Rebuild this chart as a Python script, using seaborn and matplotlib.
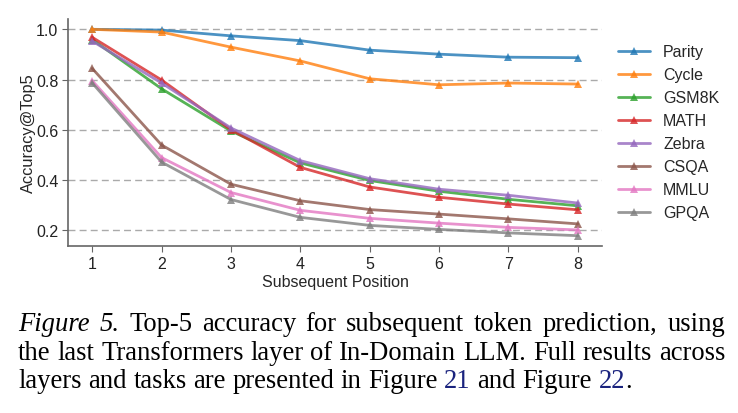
import numpy as np
import pandas as pd
import seaborn as sns
import matplotlib
matplotlib.use("Agg")
import matplotlib.pyplot as plt

# positions on the x axis
positions = [1, 2, 3, 4, 5, 6, 7, 8]

# Accuracy@Top5 per task
parity = [1.000, 0.997, 0.974, 0.955, 0.917, 0.901, 0.889, 0.887]
cycle = [1.000, 0.989, 0.929, 0.874, 0.803, 0.779, 0.786, 0.782]
gsm8k = [0.959, 0.763, 0.595, 0.468, 0.398, 0.355, 0.323, 0.297]
math_ = [0.968, 0.798, 0.600, 0.450, 0.372, 0.331, 0.304, 0.281]
zebra = [0.953, 0.786, 0.607, 0.477, 0.405, 0.363, 0.339, 0.308]
csqa = [0.844, 0.539, 0.383, 0.317, 0.282, 0.264, 0.245, 0.225]
mmlu = [0.795, 0.489, 0.350, 0.279, 0.247, 0.228, 0.211, 0.201]
gpqa = [0.786, 0.471, 0.322, 0.251, 0.219, 0.203, 0.189, 0.178]

task_names = ["Parity", "Cycle", "GSM8K", "MATH", "Zebra", "CSQA", "MMLU", "GPQA"]
task_values = [parity, cycle, gsm8k, math_, zebra, csqa, mmlu, gpqa]

# long-form table for seaborn
df = pd.DataFrame({
    "Subsequent Position": positions * len(task_names),
    "Accuracy@Top5": sum(task_values, []),
    "Task": [n for n in task_names for _ in positions],
})

sns.set_style("ticks")
plt.rcParams["font.family"] = ["Liberation Sans", "DejaVu Sans"]

fig = plt.figure(figsize=(7.38, 4.14), dpi=100)
ax = fig.add_axes([68 / 738, 1 - 247 / 414, (602 - 68) / 738, (247 - 20) / 414])

palette = sns.color_palette("tab10", len(task_names))
sns.lineplot(data=df, x="Subsequent Position", y="Accuracy@Top5", hue="Task",
             hue_order=task_names, palette=palette, marker="^", markersize=6,
             markeredgewidth=0, linewidth=2, alpha=0.8, ax=ax, legend=True)

ax.set_xticks(positions)
ax.set_yticks([0.2, 0.4, 0.6, 0.8, 1.0])
ax.set_yticklabels(["0.2", "0.4", "0.6", "0.8", "1.0"])
ax.tick_params(labelsize=11.5, colors="#222222", length=4, color="#666666", pad=3)
ax.yaxis.grid(True, linestyle=(0, (5, 3)), color="#aaaaaa", linewidth=1)
ax.set_xlabel("Subsequent Position", fontsize=11.5, labelpad=2)
ax.set_ylabel("Accuracy@Top5", fontsize=11.8)
ax.yaxis.set_label_coords(-0.06, 0.5)
for side in ["top", "right"]:
    ax.spines[side].set_visible(False)
for side in ["left", "bottom"]:
    ax.spines[side].set_color("#666666")
    ax.spines[side].set_linewidth(1.2)

handles, labels = ax.get_legend_handles_labels()
ax.get_legend().remove()
fig.legend(handles, labels, loc="upper left", bbox_to_anchor=(604 / 738, 1 - 31 / 414),
           frameon=False, fontsize=11.5, handlelength=2.0, handletextpad=0.8,
           labelspacing=0.5)

# caption below the chart: words with their style and colour
fig.canvas.draw()
renderer = fig.canvas.get_renderer()
cap_font = ["Liberation Serif", "DejaVu Serif"]
link = "#1a237e"
line1 = [("Figure", "italic", "black"), ("5.", "italic", "black")] + \
    [(w, "normal", "black") for w in "Top-5 accuracy for subsequent token prediction, using".split()]
line2_text = "the last Transformers layer of In-Domain LLM. Full results across"
line2 = [(w, "normal", "black") for w in line2_text.split()]
line3 = [(w, "normal", "black") for w in "layers and tasks are presented in Figure".split()] + \
    [("21", "normal", link), ("and", "normal", "black"), ("Figure", "normal", "black"),
     ("22", "normal", link)]
caption = [line1, line2, line3]
cap_left, cap_right = 18, 725


def text_width(s, size, style="normal"):
    t = fig.text(0, 0, s, fontsize=size, family=cap_font, style=style)
    w = t.get_window_extent(renderer).width
    t.remove()
    return w


# size chosen so that the second (widest) line fills the caption width
cap_size = 10 * (cap_right - cap_left) / text_width(line2_text, 10)
space = (text_width("the last", cap_size) - text_width("the", cap_size) - text_width("last", cap_size))

baselines = [331, 360, 388]
for i, (line, base) in enumerate(zip(caption, baselines)):
    widths = [text_width(w, cap_size, st) for w, st, c in line]
    if i < len(caption) - 1:
        gap = (cap_right - cap_left - sum(widths)) / (len(line) - 1)
    else:
        gap = space
    x_px = cap_left
    for (w, st, col), wd in zip(line, widths):
        fig.text(x_px / 738, 1 - base / 414, w, fontsize=cap_size, family=cap_font,
                 style=st, color=col, va="baseline", ha="left")
        x_px += wd + gap
    if i == len(caption) - 1:
        fig.text((x_px - gap) / 738, 1 - base / 414, ".", fontsize=cap_size, family=cap_font,
                 color="black", va="baseline", ha="left")

fig.savefig("out.png", dpi=100)
